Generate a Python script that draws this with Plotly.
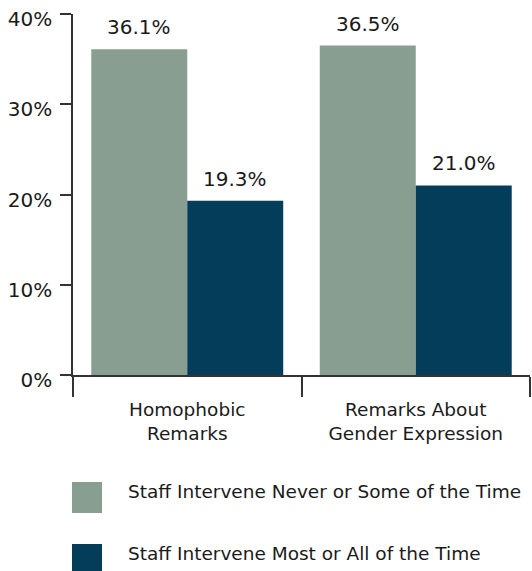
import plotly.graph_objects as go

categories = ["Homophobic<br>Remarks", "Remarks About<br>Gender Expression"]
series_names = ["Staff Intervene Never or Some of the Time",
                "Staff Intervene Most or All of the Time"]
never_some = [36.1, 36.5]
most_all = [19.3, 21.0]
colors = ["#879E91", "#033D5A"]
y_ticks = [0, 10, 20, 30, 40]
y_tick_labels = ["0%", "10%", "20%", "30%", "40%"]

FONT = "DejaVu Sans"
TXT = "#1a1a1a"

fig = go.Figure()
for name, vals, col in zip(series_names, [never_some, most_all], colors):
    fig.add_trace(go.Bar(x=categories, y=vals, name=name, marker_color=col,
                         marker_line_width=0, showlegend=False, hoverinfo="skip"))

# value labels above bars
offsets = [-0.21, 0.21]
for vals, off in zip([never_some, most_all], offsets):
    for i, v in enumerate(vals):
        fig.add_annotation(x=i + off, y=v, text=f"{v:.1f}%", showarrow=False,
                           yanchor="bottom", yshift=8,
                           font=dict(family=FONT, size=20, color=TXT))

# manual legend (paper coords)
W, H = 457, 361
def px(xp):
    return (xp - 73) / W
def py(yp):
    return (375 - yp) / H

legend_boxes = [(482, 513), (544, 575)]
legend_text_y = [491, 553]
for (y0, y1), ty, name, col in zip(legend_boxes, legend_text_y, series_names, colors):
    fig.add_shape(type="rect", xref="paper", yref="paper",
                  x0=px(72), x1=px(102), y0=py(y1), y1=py(y0),
                  fillcolor=col, line_width=0)
    fig.add_annotation(xref="paper", yref="paper", x=px(126), y=py(ty),
                       xanchor="left", yanchor="middle", showarrow=False,
                       text=name, font=dict(family=FONT, size=18.5, color=TXT))

fig.update_layout(
    width=532, height=571,
    margin=dict(l=73, r=2, t=14, b=196, autoexpand=False),
    plot_bgcolor="white", paper_bgcolor="white",
    barmode="group", bargap=0.16, bargroupgap=0,
    font=dict(family=FONT, color=TXT),
)
fig.update_xaxes(type="category", range=[-0.5, 1.5], tickson="boundaries",
                 ticks="outside", ticklen=20, tickwidth=1.5, tickcolor="#333",
                 showline=True, linecolor="#333", linewidth=1.5, automargin=False,
                 ticklabelstandoff=17,
                 showgrid=False, tickfont=dict(family=FONT, size=18.5, color=TXT))
fig.update_yaxes(range=[0, 40], tickmode="array", tickvals=y_ticks,
                 ticktext=y_tick_labels, ticklabelshift=5, ticklabelstandoff=4,
                 ticks="outside", ticklen=11, tickwidth=1.5, tickcolor="#333",
                 showline=True, linecolor="#333", linewidth=1.5, automargin=False,
                 showgrid=False, zeroline=False,
                 tickfont=dict(family=FONT, size=20, color=TXT))

fig.write_html("out.html", config={"displayModeBar": False},
               post_script="document.body.style.margin='0';")
